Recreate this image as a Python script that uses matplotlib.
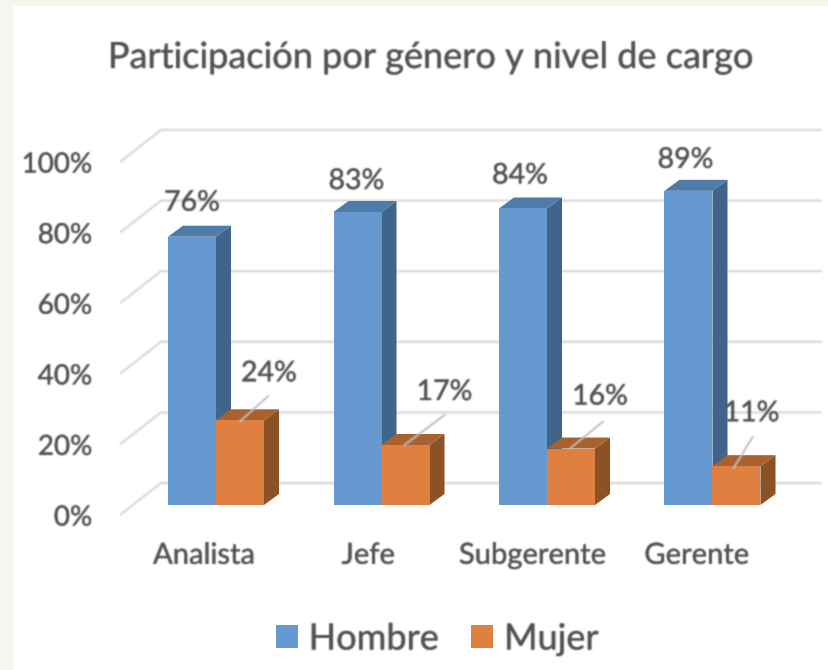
import matplotlib
matplotlib.use("Agg")
import matplotlib.pyplot as plt
import matplotlib.patheffects as pe
import numpy as np
from matplotlib.patches import Polygon, Patch, Rectangle
from matplotlib.text import Text
from matplotlib.lines import Line2D

# ---- data ----
categories = ["Analista", "Jefe", "Subgerente", "Gerente"]
hombre = [76, 83, 84, 89]
mujer = [24, 17, 16, 11]
y_ticks = [0, 20, 40, 60, 80, 100]
title = "Participación por género y nivel de cargo"

# ---- layout (pixels of the 829x670 figure) ----
W, H = 829, 670
AX_L, AX_R, AX_T, AX_B = 120, 822, 130, 515
PX_PER_PCT = 3.53
PX_PER_CAT = 165.5
FIRST_CENTER = 216
BAR_PX = 48
DEPTH_X, DEPTH_Y = 15, 11
WALL_X, WALL_Y = 41, 32
BASE_LIFT = 10

TEXT = "#505050"
GRID = "#D9D9D9"
BLUE = ("#6699CF", "#41658A", "#4D7BAA")
ORANGE = ("#DF8040", "#8B5226", "#A9622E")
FONT = "Lato"

plt.rcParams["font.family"] = FONT


def soft(img, dpi, sigma=0.75, pad=4):
    """Small Gaussian blur, to imitate the soft look of the source screenshot."""
    r = np.arange(-3, 4)
    k = np.exp(-r ** 2 / (2 * sigma ** 2))
    k /= k.sum()
    out = np.pad(img, ((pad, pad), (pad, pad), (0, 0)))
    a = out.copy()
    a[..., :3] *= a[..., 3:4]
    for axis in (0, 1):
        a = np.apply_along_axis(lambda m: np.convolve(m, k, mode="same"), axis, a)
    rgb = np.where(a[..., 3:4] > 1e-4, a[..., :3] / np.maximum(a[..., 3:4], 1e-4), 0)
    return np.dstack([rgb, a[..., 3]]), -pad, -pad


fig = plt.figure(figsize=(W / 100, H / 100), dpi=100, facecolor="#F5F7EF")
fig.patches.append(Rectangle((13 / W, 0), 1 - 13 / W, 1 - 6 / H, transform=fig.transFigure,
                             facecolor="white", edgecolor="none", zorder=-10))
ax = fig.add_axes([AX_L / W, 1 - AX_B / H, (AX_R - AX_L) / W, (AX_B - AX_T) / H])
ax.patch.set_alpha(0)
ax.set_xlim((AX_L - FIRST_CENTER) / PX_PER_CAT, (AX_R - FIRST_CENTER) / PX_PER_CAT)
ax.set_ylim(0, (AX_B - AX_T) / PX_PER_PCT)
for s in ax.spines.values():
    s.set_visible(False)

ux = 1 / PX_PER_CAT   # one pixel in x data units
uy = 1 / PX_PER_PCT   # one pixel in y data units
xl, xr = ax.get_xlim()

# gridlines: floor/wall polyline on the 3D back wall
for v in y_ticks:
    ax.plot([xl, xl + WALL_X * ux, xr], [v, v + WALL_Y * uy, v + WALL_Y * uy],
            color=GRID, lw=1.6, zorder=1, solid_capstyle="butt", clip_on=False)

ax.set_yticks(y_ticks, [f"{v}%" for v in y_ticks], fontsize=20, color=TEXT)
ax.set_xticks([i - (12 + 1.2 * i) * ux for i in range(len(categories))], categories,
              fontsize=21, color=TEXT)
ax.tick_params(axis="both", length=0)
ax.tick_params(axis="y", pad=20)
ax.tick_params(axis="x", pad=20)

base = BASE_LIFT * uy
bw = BAR_PX * ux


def bar3d(x0, value, cols, z):
    top = base + value
    x1 = x0 + bw
    dx, dy = DEPTH_X * ux, DEPTH_Y * uy
    ax.add_patch(Polygon([(x1, base), (x1 + dx, base + dy), (x1 + dx, top + dy), (x1, top)],
                         facecolor=cols[1], edgecolor="none", zorder=z))
    ax.add_patch(Polygon([(x0, top), (x0 + dx, top + dy), (x1 + dx, top + dy), (x1, top)],
                         facecolor=cols[2], edgecolor="none", zorder=z))
    ax.bar(x0, value, width=bw, bottom=base, align="edge", color=cols[0], zorder=z + 0.1)


for i in range(len(categories)):
    bar3d(i - bw, hombre[i], BLUE, 3)
    bar3d(i, mujer[i], ORANGE, 4)

# value labels: pixel offsets from the bar's top-centre
blue_off = [(0, -34), (-1, -31), (-3, -33), (-3, -31)]
orange_off = [(29, -47), (39, -53), (29, -52), (15, -53)]
leader_start = [(0, 1), (-1, 0), (-1, 0), (-3, 2)]
leader_end = [(28, -24), (39, -30), (32, -27), (16, -29)]

for i in range(len(categories)):
    bx = i - bw / 2
    ax.text(bx + blue_off[i][0] * ux, base + hombre[i] - blue_off[i][1] * uy, f"{hombre[i]}%",
            ha="center", va="center", fontsize=20.5, color=TEXT, zorder=6)
    ox = i + bw / 2
    top = base + mujer[i]
    ax.text(ox + orange_off[i][0] * ux, top - orange_off[i][1] * uy, f"{mujer[i]}%",
            ha="center", va="center", fontsize=20.5, color=TEXT, zorder=6)
    ax.plot([ox + leader_start[i][0] * ux, ox + leader_end[i][0] * ux],
            [top - leader_start[i][1] * uy, top - leader_end[i][1] * uy],
            color="#BFBFBF", lw=1.4, zorder=5)

ax.set_title(title, fontsize=26, color=TEXT, x=(430 - AX_L) / (AX_R - AX_L),
             y=(AX_B - 68) / (AX_B - AX_T), pad=0)

handles = [Patch(facecolor=BLUE[0], label="Hombre"), Patch(facecolor=ORANGE[0], label="Mujer")]
ax.legend(handles=handles, loc="center", bbox_to_anchor=(437 / W, 1 - 639 / H),
          bbox_transform=fig.transFigure, ncol=2, frameon=False, fontsize=26,
          labelcolor=TEXT, handlelength=0.61, handleheight=0.61, handletextpad=0.3,
          columnspacing=0.9, borderpad=0, borderaxespad=0)

for t in ax.findobj(Text):
    t.set_path_effects([pe.withStroke(linewidth=0.25, foreground=t.get_color())])
    t.set_agg_filter(soft)
for l in ax.findobj(Line2D):
    l.set_agg_filter(soft)

fig.savefig("out.png", dpi=100, facecolor=fig.get_facecolor())
